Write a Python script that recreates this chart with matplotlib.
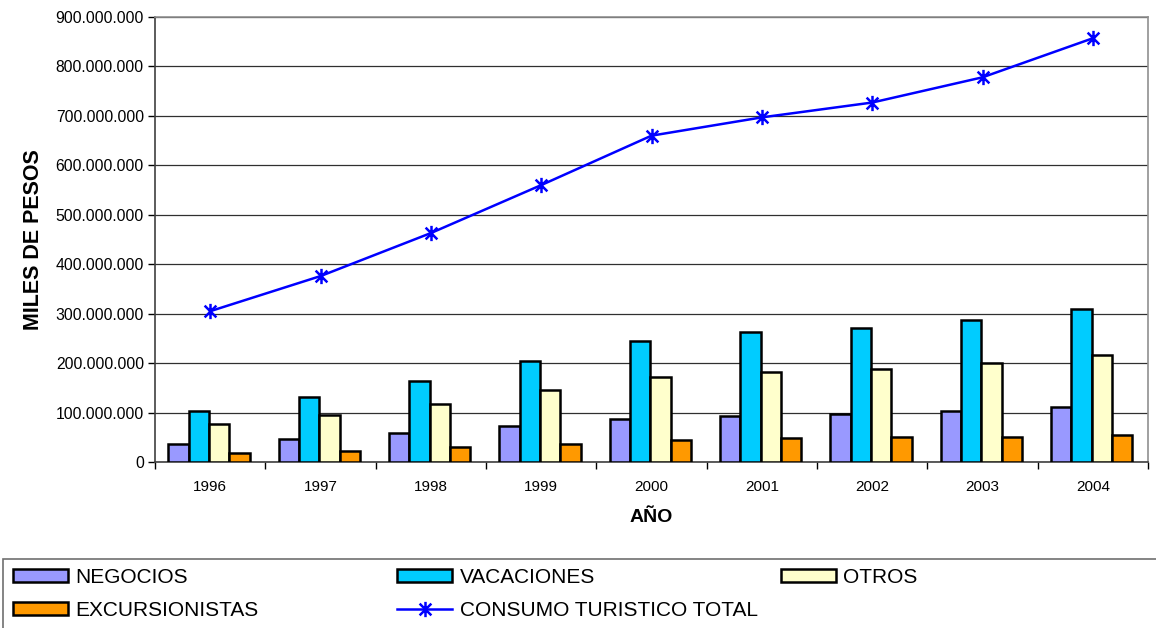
import matplotlib.pyplot as plt
import numpy as np
from matplotlib.path import Path
from matplotlib.patches import Patch, Rectangle
from matplotlib.lines import Line2D
from matplotlib.ticker import FuncFormatter, MultipleLocator

plt.rcParams['font.family'] = ['Liberation Sans', 'DejaVu Sans']

years = ['1996', '1997', '1998', '1999', '2000', '2001', '2002', '2003', '2004']
negocios = [36e6, 46e6, 58e6, 73e6, 87e6, 94e6, 97e6, 103e6, 112e6]
vacaciones = [103e6, 131e6, 164e6, 204e6, 244e6, 262e6, 272e6, 287e6, 310e6]
otros = [77e6, 96e6, 117e6, 145e6, 171e6, 182e6, 188e6, 200e6, 216e6]
excursionistas = [19e6, 23e6, 30e6, 37e6, 44e6, 48e6, 50e6, 51e6, 55e6]
total = [305e6, 376e6, 463e6, 560e6, 660e6, 697e6, 727e6, 778e6, 857e6]

series = [
    ('NEGOCIOS', negocios, '#9999FF'),
    ('VACACIONES', vacaciones, '#00CCFF'),
    ('OTROS', otros, '#FFFFCC'),
    ('EXCURSIONISTAS', excursionistas, '#FF9900'),
]

# excel style asterisk: X plus vertical bar
star = Path([(-1, -1), (1, 1), (-1, 1), (1, -1), (0, -1.3), (0, 1.3)],
            [Path.MOVETO, Path.LINETO, Path.MOVETO, Path.LINETO, Path.MOVETO, Path.LINETO])

fig = plt.figure(figsize=(11.56, 6.28), dpi=100)
ax = fig.add_axes([155 / 1156, 1 - 462 / 628, 993 / 1156, 445 / 628])

x = np.arange(len(years)) + 0.5
w = 0.184
for i, (name, vals, col) in enumerate(series):
    ax.bar(x + (i - 1.5) * w - 0.01, vals, width=w, color=col, edgecolor='black',
           linewidth=1.8, zorder=3)

ax.plot(x, total, color='#0000FF', linewidth=1.8, marker=star, markersize=11,
        markeredgewidth=1.8, markeredgecolor='#0000FF', zorder=4)

ax.set_xlim(0, len(years))
ax.set_ylim(0, 900e6)
ax.yaxis.set_major_locator(MultipleLocator(100e6))
ax.yaxis.set_major_formatter(FuncFormatter(lambda v, p: f'{int(round(v)):,}'.replace(',', '.')))
ax.grid(axis='y', color='#303030', linewidth=0.9, zorder=0)

ax.set_xticks(np.arange(len(years) + 1))
ax.set_xticklabels([])
ax.set_xticks(x, minor=True)
ax.set_xticklabels(years, minor=True)
ax.tick_params(axis='x', which='minor', length=0, pad=13, labelsize=11)
ax.tick_params(axis='x', which='major', length=5, width=1, direction='out')
ax.tick_params(axis='y', length=5, width=1, direction='out', labelsize=11.3, pad=3)

for s in ['left', 'bottom']:
    ax.spines[s].set_color('#404040')
    ax.spines[s].set_linewidth(1.2)
for s in ['top', 'right']:
    ax.spines[s].set_color('#909090')
    ax.spines[s].set_linewidth(1.2)

ax.set_ylabel('MILES DE PESOS', fontsize=15.5, fontweight='bold')
ax.yaxis.set_label_coords(-0.112, 0.5)
ax.set_xlabel('AÑO', fontsize=14, fontweight='bold')
ax.xaxis.set_label_coords(0.5, -0.106)

# legend: framed strip at the bottom, three columns
fig.add_artist(Rectangle((3 / 1156, -0.01), 1.0, 1 - 559 / 628 + 0.01, transform=fig.transFigure,
                         facecolor='white', edgecolor='#707070', linewidth=1.2, zorder=0))

handles = [Patch(facecolor=col, edgecolor='black', linewidth=1.8) for _, _, col in series]
handles.append(Line2D([], [], color='#0000FF', linewidth=1.8, marker=star, markersize=11,
                      markeredgewidth=1.8, markeredgecolor='#0000FF'))
labels = [s[0] for s in series] + ['CONSUMO TURISTICO TOTAL']
columns = [([0, 3], 13), ([1, 4], 397), ([2], 781)]
for idx, px in columns:
    fig.legend([handles[i] for i in idx], [labels[i] for i in idx],
               loc='upper left', bbox_to_anchor=(px / 1156, 1 - 568 / 628),
               fontsize=15, handlelength=2.65, handleheight=0.6,
               handletextpad=0.35, labelspacing=0.68, borderpad=0, borderaxespad=0,
               frameon=False)

fig.savefig('out.png', dpi=100)
